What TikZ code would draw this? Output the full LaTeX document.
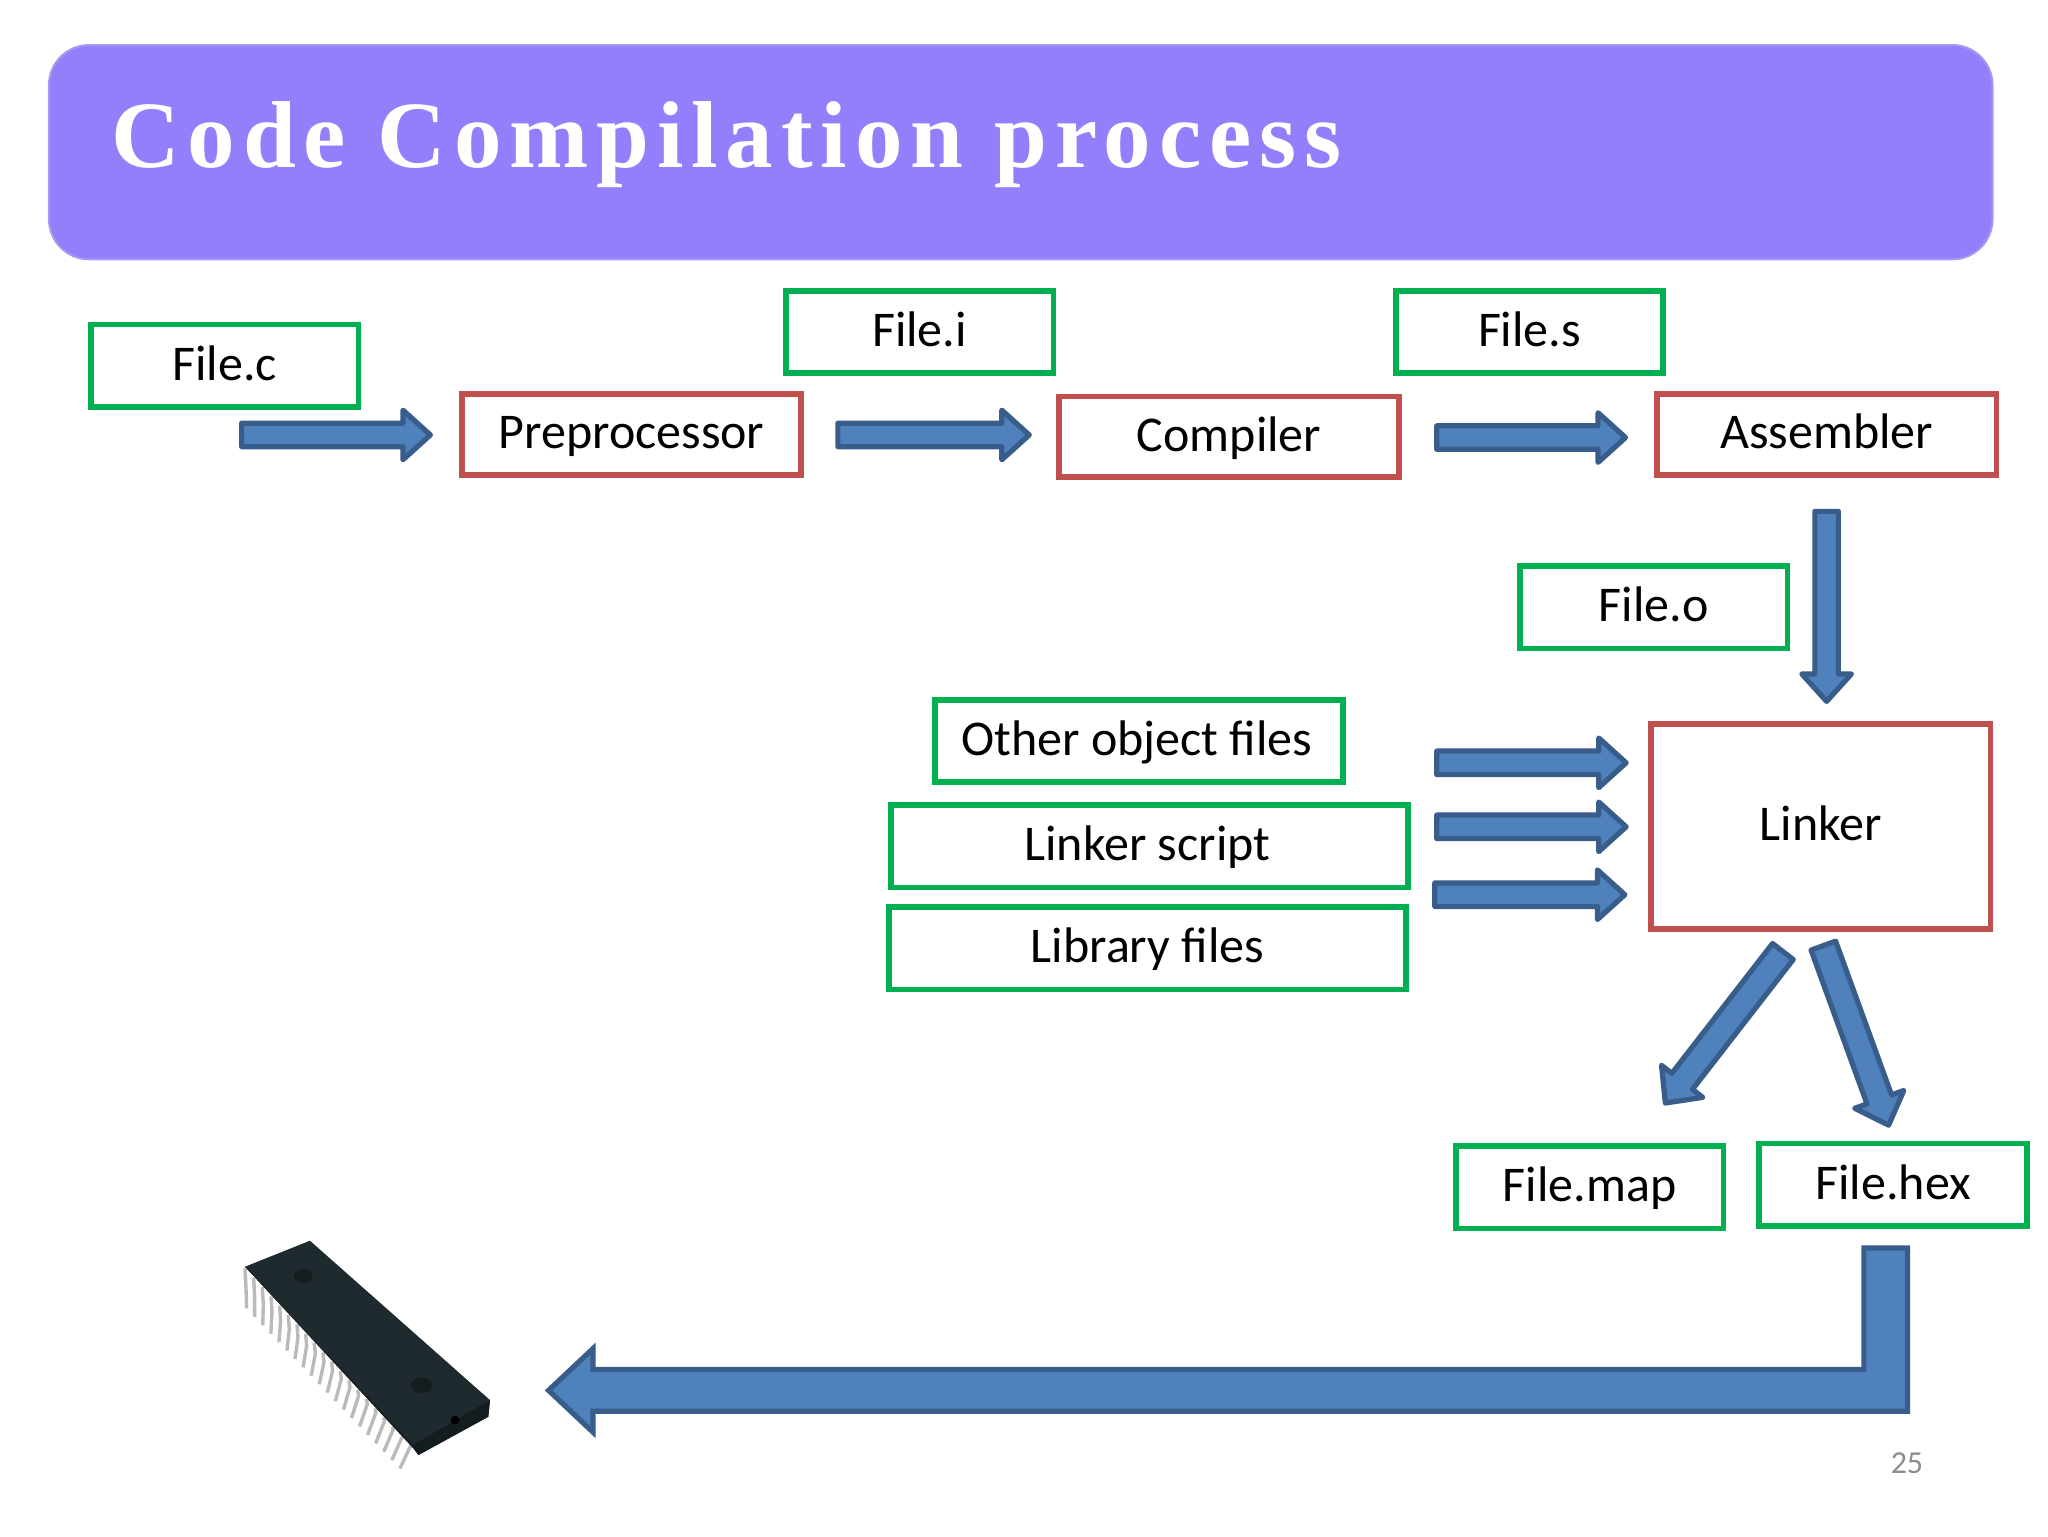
\documentclass[tikz,border=0pt]{standalone}
\usepackage{fontspec}
\setmainfont{Carlito}
\newfontfamily\titlefont[LetterSpace=8.3]{Liberation Serif}
\usetikzlibrary{calc}
\definecolor{ttlbg}{HTML}{927FFC}
\definecolor{ttlln}{HTML}{A49AF0}
\definecolor{grn}{HTML}{00B050}
\definecolor{rd}{HTML}{C0504D}
\definecolor{blk}{HTML}{4F81BD}
\definecolor{blkln}{HTML}{385D8A}
\definecolor{chip}{HTML}{1F2A2E}
\definecolor{chipd}{HTML}{141C1F}
\tikzset{
  lbl/.style={inner sep=0pt,outer sep=0pt,line width=2.9pt,font=\fontsize{25}{30}\selectfont,text height=17.3pt,text depth=2.7pt},
  gbox/.style={lbl,draw=grn,fill=white},
  rbox/.style={lbl,draw=rd,fill=white},
  sz/.style 2 args={minimum width=#1*0.65306pt,minimum height=#2*0.65306pt},
  block/.style={draw=blkln,fill=blk,line width=2.6pt,line join=round},
}
% #1 start, #2 tip, #3 shaft half width, #4 head half width, #5 head length (all in picture units)
\newcommand{\blockarrow}[5]{%
  \draw[block] let \p1=($(#2)-(#1)$),\n1={atan2(\y1,\x1)},\n2={veclen(\x1,\y1)},
    \n3={#3*0.65306pt},\n4={#4*0.65306pt},\n5={#5*0.65306pt},\n6={\n2-\n5} in
    [shift={(#1)},rotate=\n1]
    (0pt,-\n3) -- (\n6,-\n3) -- (\n6,-\n4) -- (\n2,0pt)
    -- (\n6,\n4) -- (\n6,\n3) -- (0pt,\n3) -- cycle;}
\begin{document}
\begin{tikzpicture}[x=0.65306pt,y=-0.65306pt]
\useasboundingbox (0,0) rectangle (1568,1176);
\fill[white] (0,0) rectangle (1568,1176);
% title banner
\node[draw=ttlln,fill=ttlbg,rounded corners=20pt,line width=1pt,inner sep=0pt,sz={1488}{164}] (banner) at (781.5,116.5) {};
\node[anchor=base west,inner sep=0pt,text=white,font=\titlefont\bfseries\fontsize{47.5}{58}\selectfont] (title) at (85,128) {Code Compilation process};
% boxes
\node[gbox,sz={205}{63}] (filec) at (172,280) {File.c};
\node[rbox,sz={260}{62}] (prep) at (483.5,332.5) {Preprocessor};
\node[gbox,sz={205}{63}] (filei) at (704,254) {File.i};
\node[rbox,sz={260}{62}] (comp) at (941,334.5) {Compiler};
\node[gbox,sz={205}{63}] (files) at (1171,254) {File.s};
\node[rbox,sz={260}{62}] (asm) at (1398.5,332.5) {Assembler};
\node[gbox,sz={205}{63}] (fileo) at (1266,465) {File.o};
\node[gbox,sz={312}{63}] (other) at (872,567.5) {Other object files\kern 2pt};
\node[gbox,sz={396}{63}] (lscript) at (880,648) {Linker script\kern 2pt};
\node[gbox,sz={396}{63}] (libf) at (878.5,726) {Library files};
\node[rbox,sz={260}{157}] (linker) at (1394,632.5) {Linker};
\node[gbox,sz={205}{63}] (fmap) at (1217,909) {File.map};
\node[gbox,sz={205}{63}] (fhex) at (1449.5,907) {File.hex};
\node[text=black!45,inner sep=0pt,font=\fontsize{16}{19}\selectfont] (pagenum) at (1460,1120) {25};
% arrow anchors
\coordinate (a1s) at ($(filec.south)+(13,21.5)$);
\coordinate (a1e) at ($(prep.west)+(-24,0.5)$);
\coordinate (a2s) at ($(prep.east)+(28,0.5)$);
\coordinate (a2e) at ($(comp.west)+(-23,-1.5)$);
\coordinate (a3s) at ($(comp.east)+(29,0.5)$);
\coordinate (a3e) at ($(asm.west)+(-24,2.5)$);
\coordinate (a4s) at ($(asm.south)+(0,28)$);
\coordinate (a4e) at ($(linker.north)+(4.5,-17)$);
\coordinate (a5s) at ($(other.east)+(72,16.5)$);
\coordinate (a5e) at ($(linker.west)+(-19,-48.5)$);
\coordinate (a6s) at ($(lscript.east)+(22,-15)$);
\coordinate (a6e) at ($(linker.west)+(-19,0.5)$);
\coordinate (a7s) at ($(libf.east)+(22,-41)$);
\coordinate (a7e) at ($(linker.west)+(-20,52.5)$);
\coordinate (a8s) at ($(linker.south)+(-29,17.5)$);
\coordinate (a8e) at ($(fmap.north)+(58,-33)$);
\coordinate (a9s) at ($(linker.south)+(2,13)$);
\coordinate (a9e) at ($(fhex.north)+(-3.5,-14)$);
\blockarrow{a1s}{a1e}{9}{19}{21}
\blockarrow{a2s}{a2e}{9}{19}{21}
\blockarrow{a3s}{a3e}{9}{19}{21}
\blockarrow{a4s}{a4e}{9}{19}{21}
\blockarrow{a5s}{a5e}{9}{19}{21}
\blockarrow{a6s}{a6e}{9}{19}{21}
\blockarrow{a7s}{a7e}{9}{19}{21}
\blockarrow{a8s}{a8e}{10}{20}{21}
\blockarrow{a9s}{a9e}{10}{20}{21}
% bent arrow to the chip
\coordinate (bs) at ($(fhex.south)+(-5.5,17)$);
\coordinate (be) at (420,1064.5);
\draw[block,line join=miter] (be) -- ($(be)+(34,-32)$) -- ($(be)+(34,-16)$) -- ($(bs)+(-17,93)$) -- ($(bs)+(-17,0)$) -- ($(bs)+(16.5,0)$) -- ($(bs)+(16.5,125)$) -- ($(be)+(34,16)$) -- ($(be)+(34,32)$) -- cycle;
% chip (zoom coordinates)
\begin{scope}[shift={(153.1,918.8)},scale=0.2552]
  \foreach \i in {0,...,19}{
    \draw[line width=1.7pt,draw=black!27] ({135+26*\i},{205+28*\i}) -- ({138+26*\i},{262+25*\i}) -- ({140+24.2*\i},{325+25.3*\i});
  }
  \fill[chipd] (135,200) -- (640,745) -- (655,765) -- (865,650) -- (870,600) -- cycle;
  \fill[chip] (135,200) -- (330,122) -- (870,600) -- (640,735) -- cycle;
  \fill[chipd] (640,735) -- (870,600) -- (865,650) -- (655,765) -- cycle;
  \fill[chipd] (310,228) ellipse (28 and 20);
  \fill[chipd] (665,555) ellipse (32 and 24);
  \fill[black] (765,660) circle (13);
\end{scope}
\end{tikzpicture}
\end{document}
